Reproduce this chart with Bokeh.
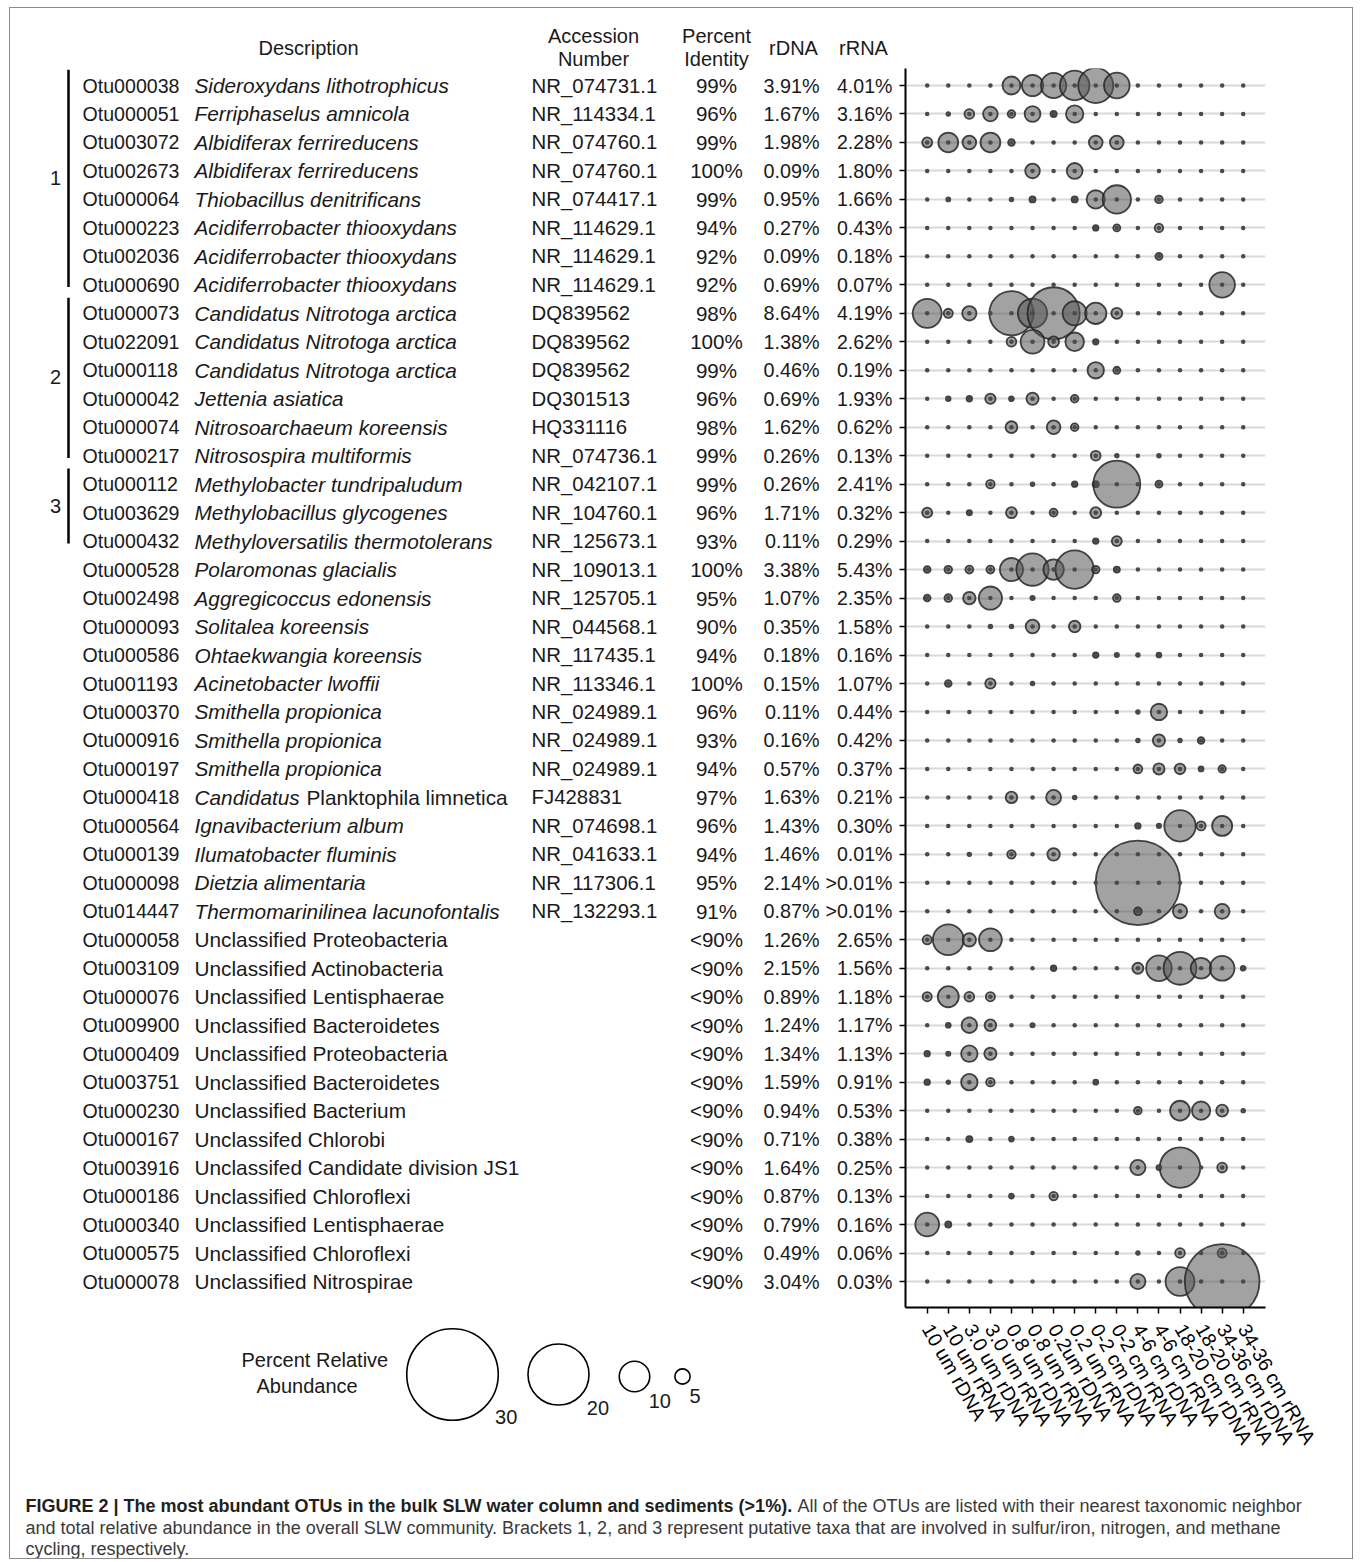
import math
from bokeh.plotting import figure
from bokeh.models import ColumnDataSource, Range1d, FixedTicker
from bokeh.layouts import column, row
from bokeh.embed import file_html
from bokeh.resources import INLINE
from bokeh.core.properties import value

# ---------------- data ----------------
otu_ids = ["Otu000038", "Otu000051", "Otu003072", "Otu002673", "Otu000064", "Otu000223",
           "Otu002036", "Otu000690", "Otu000073", "Otu022091", "Otu000118", "Otu000042",
           "Otu000074", "Otu000217", "Otu000112", "Otu003629", "Otu000432", "Otu000528",
           "Otu002498", "Otu000093", "Otu000586", "Otu001193", "Otu000370", "Otu000916",
           "Otu000197", "Otu000418", "Otu000564", "Otu000139", "Otu000098", "Otu014447",
           "Otu000058", "Otu003109", "Otu000076", "Otu009900", "Otu000409", "Otu003751",
           "Otu000230", "Otu000167", "Otu003916", "Otu000186", "Otu000340", "Otu000575",
           "Otu000078"]

desc_italic = ["Sideroxydans lithotrophicus", "Ferriphaselus amnicola", "Albidiferax ferrireducens",
               "Albidiferax ferrireducens", "Thiobacillus denitrificans", "Acidiferrobacter thiooxydans",
               "Acidiferrobacter thiooxydans", "Acidiferrobacter thiooxydans", "Candidatus Nitrotoga arctica",
               "Candidatus Nitrotoga arctica", "Candidatus Nitrotoga arctica", "Jettenia asiatica",
               "Nitrosoarchaeum koreensis", "Nitrosospira multiformis", "Methylobacter tundripaludum",
               "Methylobacillus glycogenes", "Methyloversatilis thermotolerans", "Polaromonas glacialis",
               "Aggregicoccus edonensis", "Solitalea koreensis", "Ohtaekwangia koreensis",
               "Acinetobacter lwoffii", "Smithella propionica", "Smithella propionica",
               "Smithella propionica", "Candidatus", "Ignavibacterium album", "Ilumatobacter fluminis",
               "Dietzia alimentaria", "Thermomarinilinea lacunofontalis",
               "", "", "", "", "", "", "", "", "", "", "", "", ""]

desc_roman = [""] * 25 + ["Planktophila limnetica"] + [""] * 4 + [
    "Unclassified Proteobacteria", "Unclassified Actinobacteria", "Unclassified Lentisphaerae",
    "Unclassified Bacteroidetes", "Unclassified Proteobacteria", "Unclassified Bacteroidetes",
    "Unclassified Bacterium", "Unclassifed Chlorobi", "Unclassifed Candidate division JS1",
    "Unclassified Chloroflexi", "Unclassified Lentisphaerae", "Unclassified Chloroflexi",
    "Unclassified Nitrospirae"]

accession = ["NR_074731.1", "NR_114334.1", "NR_074760.1", "NR_074760.1", "NR_074417.1", "NR_114629.1",
             "NR_114629.1", "NR_114629.1", "DQ839562", "DQ839562", "DQ839562", "DQ301513",
             "HQ331116", "NR_074736.1", "NR_042107.1", "NR_104760.1", "NR_125673.1", "NR_109013.1",
             "NR_125705.1", "NR_044568.1", "NR_117435.1", "NR_113346.1", "NR_024989.1", "NR_024989.1",
             "NR_024989.1", "FJ428831", "NR_074698.1", "NR_041633.1", "NR_117306.1", "NR_132293.1",
             "", "", "", "", "", "", "", "", "", "", "", "", ""]

identity = ["99%", "96%", "99%", "100%", "99%", "94%", "92%", "92%", "98%", "100%", "99%", "96%",
            "98%", "99%", "99%", "96%", "93%", "100%", "95%", "90%", "94%", "100%", "96%", "93%",
            "94%", "97%", "96%", "94%", "95%", "91%"] + ["<90%"] * 13

rdna = ["3.91%", "1.67%", "1.98%", "0.09%", "0.95%", "0.27%", "0.09%", "0.69%", "8.64%", "1.38%",
        "0.46%", "0.69%", "1.62%", "0.26%", "0.26%", "1.71%", "0.11%", "3.38%", "1.07%", "0.35%",
        "0.18%", "0.15%", "0.11%", "0.16%", "0.57%", "1.63%", "1.43%", "1.46%", "2.14%", "0.87%",
        "1.26%", "2.15%", "0.89%", "1.24%", "1.34%", "1.59%", "0.94%", "0.71%", "1.64%", "0.87%",
        "0.79%", "0.49%", "3.04%"]

rrna = ["4.01%", "3.16%", "2.28%", "1.80%", "1.66%", "0.43%", "0.18%", "0.07%", "4.19%", "2.62%",
        "0.19%", "1.93%", "0.62%", "0.13%", "2.41%", "0.32%", "0.29%", "5.43%", "2.35%", "1.58%",
        "0.16%", "1.07%", "0.44%", "0.42%", "0.37%", "0.21%", "0.30%", "0.01%", ">0.01%", ">0.01%",
        "2.65%", "1.56%", "1.18%", "1.17%", "1.13%", "0.91%", "0.53%", "0.38%", "0.25%", "0.13%",
        "0.16%", "0.06%", "0.03%"]

samples = ["10 um rDNA", "10 um rRNA", "3.0 um rDNA", "3.0 um rRNA", "0.8 um rDNA", "0.8 um rRNA",
           "0.2um rDNA", "0.2 um rRNA", "0-2 cm rDNA", "0-2 cm rRNA", "4-6 cm rDNA", "4-6 cm rRNA",
           "18-20 cm rDNA", "18-20 cm rRNA", "34-36 cm rDNA", "34-36 cm rRNA"]

# percent relative abundance per OTU (rows) and sample (columns)
abundance = [
    [0, 0, 0, 0, 5.9, 7.0, 8.3, 9.7, 11.5, 8.4, 0, 0, 0, 0, 0, 0],
    [0, 1.2, 3.2, 4.8, 2.5, 5.2, 2.0, 5.7, 0, 0, 0, 0, 0, 0, 0, 0],
    [3.3, 6.5, 4.5, 6.5, 2.2, 0, 0, 0, 4.5, 4.5, 0, 0, 0, 0, 0, 0],
    [0, 0, 0, 0, 0, 4.8, 0, 5.2, 0, 0, 0, 0, 0, 0, 0, 0],
    [0, 1.3, 0, 0, 1.2, 2.0, 0, 2.0, 6.0, 9.3, 0, 2.5, 0, 0, 0, 0],
    [0, 0, 0, 0, 0, 0, 0, 0, 1.8, 2.3, 0, 2.8, 0, 0, 0, 0],
    [0, 0, 0, 0, 0, 0, 0, 0, 0, 0, 0, 2.3, 0, 0, 0, 0],
    [0, 0, 0, 0, 0, 0, 0, 0, 0, 0, 0, 0, 0, 0, 8.4, 0],
    [9.5, 3.0, 4.7, 0, 14.5, 9.6, 17.1, 7.9, 7.0, 3.6, 0, 0, 0, 0, 0, 0],
    [0, 0, 0, 0, 3.2, 7.8, 3.6, 6.1, 1.8, 0, 0, 0, 0, 0, 0, 0],
    [0, 0, 0, 0, 0, 0, 0, 0, 5.4, 2.3, 0, 0, 0, 0, 0, 0],
    [0, 1.5, 1.8, 3.4, 1.6, 4.0, 0, 2.5, 0, 0, 0, 0, 0, 0, 0, 0],
    [0, 0, 0, 0, 3.9, 0, 4.5, 2.5, 0, 0, 0, 0, 0, 0, 0, 0],
    [0, 0, 0, 0, 0, 0, 0, 0, 3.2, 1.2, 0, 1.2, 0, 0, 0, 0],
    [0, 0, 0, 2.8, 0, 1.2, 0, 1.8, 2.0, 15.4, 0, 2.3, 0, 0, 0, 0],
    [3.3, 0, 1.7, 0, 3.6, 0, 2.6, 0, 3.6, 0, 0, 0, 0, 0, 0, 0],
    [0, 0, 0, 0, 0, 0, 0, 0, 1.8, 3.3, 0, 0, 0, 0, 0, 0],
    [2.2, 2.5, 2.6, 2.6, 7.6, 10.6, 6.7, 12.6, 2.5, 2.0, 0, 0, 0, 0, 0, 0],
    [2.2, 2.5, 4.1, 7.6, 0, 1.4, 0, 0, 0, 2.5, 0, 0, 0, 0, 0, 0],
    [0, 0, 0, 1.2, 1.2, 4.5, 0, 3.8, 0, 0, 0, 0, 0, 0, 0, 0],
    [0, 0, 0, 0, 0, 0, 0, 0, 1.8, 1.4, 1.2, 1.6, 0, 0, 0, 0],
    [0, 2.2, 0, 3.4, 0, 1.2, 0, 0, 0, 0, 0, 0, 0, 0, 0, 0],
    [0, 0, 0, 0, 0, 0, 0, 0, 0, 0, 1.2, 5.4, 0, 0, 0, 0],
    [0, 0, 0, 0, 0, 0, 0, 0, 0, 0, 1.2, 4.0, 1.2, 2.2, 0, 0],
    [0, 0, 0, 0, 0, 0, 0, 0, 0, 0, 2.9, 3.7, 3.5, 1.6, 2.4, 0],
    [0, 0, 0, 0, 3.8, 0, 4.9, 1.2, 0, 0, 0, 0, 0, 0, 0, 0],
    [0, 0, 0, 0, 0, 0, 0, 0, 0, 0, 1.8, 1.4, 10.3, 3.0, 6.6, 0],
    [0, 0, 1.2, 0, 2.8, 0, 4.1, 0, 0, 0, 0, 0, 0, 0, 0, 0],
    [0, 0, 0, 0, 0, 0, 0, 0, 0, 0, 27.7, 0, 0, 0, 0, 0],
    [0, 0, 0, 0, 0, 0, 0, 0, 0, 0, 2.5, 0, 4.7, 0, 4.9, 0],
    [3.0, 10.1, 4.4, 7.5, 0, 0, 0, 0, 0, 0, 0, 0, 0, 0, 0, 0],
    [0, 0, 0, 0, 0, 0, 1.8, 0, 0, 0, 3.6, 8.4, 10.8, 6.8, 8.1, 1.6],
    [3.0, 6.9, 3.2, 3.0, 0, 0, 0, 0, 0, 0, 0, 0, 0, 0, 0, 0],
    [0, 1.6, 5.1, 3.8, 0, 1.4, 0, 0, 0, 0, 0, 0, 0, 0, 0, 0],
    [1.8, 1.4, 5.4, 4.0, 0, 0, 0, 0, 0, 0, 0, 0, 0, 0, 0, 0],
    [1.8, 1.2, 5.4, 2.8, 0, 0, 0, 0, 1.6, 0, 0, 0, 0, 0, 0, 0],
    [0, 0, 0, 0, 0, 0, 0, 0, 0, 0, 2.5, 0, 6.5, 6.0, 3.9, 1.2],
    [0, 0, 2.0, 0, 1.6, 0, 0, 0, 0, 0, 0, 0, 0, 0, 0, 0],
    [0, 0, 0, 0, 0, 0, 0, 0, 0, 0, 5.0, 1.6, 13.3, 0, 3.2, 0],
    [0, 0, 0, 0, 1.6, 0, 2.8, 0, 0, 0, 0, 0, 0, 0, 0, 0],
    [7.8, 2.0, 0, 0, 0, 0, 0, 0, 0, 0, 0, 0, 0, 0, 0, 0],
    [0, 0, 0, 0, 0, 0, 0, 0, 0, 0, 1.2, 0, 3.2, 0, 3.0, 0],
    [0, 0, 0, 0, 0, 0, 0, 0, 0, 0, 5.0, 0, 9.5, 0, 24.5, 0],
]

group_names = ["1", "2", "3"]
group_first = [1, 9, 15]
group_last = [8, 14, 17]

legend_values = [30, 20, 10, 5]

headers = ["Description", "Accession\nNumber", "Percent\nIdentity", "rDNA", "rRNA"]

caption_bold = "FIGURE 2 | The most abundant OTUs in the bulk SLW water column and sediments (>1%)."
caption_lines = ["All of the OTUs are listed with their nearest taxonomic neighbor",
                 "and total relative abundance in the overall SLW community. Brackets 1, 2, and 3 represent putative taxa that are involved in sulfur/iron, nitrogen, and methane",
                 "cycling, respectively."]

# ---------------- layout constants ----------------
FONT = "Liberation Sans"
PX_PER_PCT = 3.05          # bubble diameter (px) per percent
OX, OY = 10, 8             # page offset of the layout content
TABLE_W, BUB_W = 887, 455
TOP_H, CAP_H = 1460, 90
F_LEFT, F_RIGHT, F_TOP, F_BOT = 905, 1265, 68, 1307   # bubble frame on the page
Y_TOP, Y_BOT = 0.403, 43.913                            # row units at frame top / bottom
X_LEFT, X_RIGHT = -0.03, 17.058
SCALE = (F_BOT - F_TOP) / (Y_BOT - Y_TOP)

def row_of(page_y):
    return Y_TOP + (page_y - F_TOP) / SCALE

n_rows = len(otu_ids)
rows_idx = list(range(1, n_rows + 1))

# ---------------- table figure ----------------
tab = figure(width=TABLE_W, height=TOP_H, output_backend="svg", toolbar_location=None,
             x_range=Range1d(OX, OX + TABLE_W),
             y_range=Range1d(row_of(OY + TOP_H), row_of(OY)),
             x_axis_location=None, y_axis_location=None, min_border=0,
             outline_line_color=None, background_fill_color="white", border_fill_color="white")
tab.xgrid.visible = False
tab.ygrid.visible = False

tsrc = ColumnDataSource(dict(y=rows_idx, otu=otu_ids, it=desc_italic, ro=desc_roman,
                             ro_x=[194 if not it else 306 for it in desc_italic],
                             acc=accession, ident=identity, rdna=rdna, rrna=rrna))
base = dict(text_font=value(FONT), text_baseline="middle", text_color="#1a1a1a")
tab.text(x=82, y="y", text="otu", source=tsrc, text_align="left", text_font_size="19.6px", **base)
tab.text(x=194, y="y", text="it", source=tsrc, text_align="left", text_font_style="italic",
         text_font_size="20.8px", **base)
tab.text(x="ro_x", y="y", text="ro", source=tsrc, text_align="left", text_font_size="20.8px", **base)
tab.text(x=531, y="y", text="acc", source=tsrc, text_align="left", text_font_size="20.4px", **base)
tab.text(x=716, y="y", text="ident", source=tsrc, text_align="center", text_font_size="20.6px", **base)
tab.text(x=819, y="y", text="rdna", source=tsrc, text_align="right", text_font_size="19.8px", **base)
tab.text(x=892, y="y", text="rrna", source=tsrc, text_align="right", text_font_size="19.6px", **base)

# headers
hx = [308, 593, 716, 793, 863]
hsrc = ColumnDataSource(dict(x=hx, y=[row_of(47)] * 5, t=headers))
tab.text(x="x", y="y", text="t", source=hsrc, text_align="center", text_font_size="20px",
         text_line_height=1.05, **base)

# brackets
bsrc = ColumnDataSource(dict(y0=[g - 0.55 for g in group_first], y1=[g + 0.08 for g in group_last],
                             ym=[(a + b) / 2 - 0.25 for a, b in zip(group_first, group_last)],
                             name=group_names))
tab.segment(x0=68, y0="y0", x1=68, y1="y1", source=bsrc, line_color="black", line_width=2.5)
tab.text(x=55, y="ym", text="name", source=bsrc, text_align="center", text_font_size="20px", **base)

# size legend
leg_cx = [452, 558, 634, 682]
leg_cy = [1374, 1374, 1376, 1376]
leg_d = [v * PX_PER_PCT for v in legend_values]
lsrc = ColumnDataSource(dict(x=leg_cx, y=[row_of(v) for v in leg_cy], size=leg_d,
                             lx=[cx + 0.465 * d for cx, d in zip(leg_cx, leg_d)],
                             ly=[row_of(cy + 0.3 * d + 15) for cy, d in zip(leg_cy, leg_d)],
                             t=[str(v) for v in legend_values]))
tab.scatter(x="x", y="y", size="size", source=lsrc, fill_color=None, line_color="black", line_width=1.6)
tab.text(x="lx", y="ly", text="t", source=lsrc, text_align="left", text_font_size="20px", **base)
tab.text(x=[241, 256], y=[row_of(1359), row_of(1385)], text=["Percent Relative", "Abundance"],
         text_align="left", text_font_size="20px", **base)

# ---------------- bubble figure ----------------
bub = figure(width=BUB_W, height=TOP_H, output_backend="svg", toolbar_location=None,
             x_range=Range1d(X_LEFT, X_RIGHT), y_range=Range1d(Y_BOT, Y_TOP),
             min_border_left=F_LEFT - (OX + TABLE_W), min_border_right=OX + TABLE_W + BUB_W - F_RIGHT,
             min_border_top=F_TOP - OY, min_border_bottom=OY + TOP_H - F_BOT,
             outline_line_color=None, background_fill_color="white", border_fill_color="white")

bub.xaxis.ticker = FixedTicker(ticks=list(range(1, len(samples) + 1)))
bub.xaxis.major_label_overrides = {i + 1: s for i, s in enumerate(samples)}
bub.xaxis.major_label_orientation = -math.pi / 3
bub.xaxis.major_label_text_font = FONT
bub.xaxis.major_label_text_font_size = "19.6px"
bub.xaxis.major_label_text_color = "black"
bub.xaxis.major_label_standoff = 12
bub.yaxis.ticker = FixedTicker(ticks=rows_idx)
bub.yaxis.major_label_overrides = {i: "" for i in rows_idx}
bub.yaxis.major_label_standoff = 0
for ax in (bub.xaxis, bub.yaxis):
    ax.axis_line_color = "black"
    ax.axis_line_width = 2
    ax.major_tick_line_color = "black"
    ax.major_tick_line_width = 1.5
    ax.major_tick_out = 6
    ax.major_tick_in = 0
    ax.minor_tick_line_color = None
bub.xgrid.grid_line_color = None
bub.ygrid.ticker = FixedTicker(ticks=rows_idx)
bub.ygrid.grid_line_color = "#d9d9d9"
bub.ygrid.grid_line_width = 2

bx, by, bs = [], [], []
dx, dy = [], []
for r, vals in enumerate(abundance):
    for c, v in enumerate(vals):
        dx.append(c + 1)
        dy.append(r + 1)
        if v > 0:
            bx.append(c + 1)
            by.append(r + 1)
            bs.append(v * PX_PER_PCT)
bub.scatter(x=bx, y=by, size=bs, fill_color="#555555", fill_alpha=0.55,
            line_color="#262626", line_width=1.8, line_alpha=0.85)
bub.scatter(x=dx, y=dy, size=4.5, fill_color="#4a4a4a", line_color=None)

# ---------------- caption figure ----------------
cap = figure(width=TABLE_W + BUB_W, height=CAP_H, output_backend="svg", toolbar_location=None,
             x_range=Range1d(OX, OX + TABLE_W + BUB_W), y_range=Range1d(OY + TOP_H + CAP_H, OY + TOP_H),
             x_axis_location=None, y_axis_location=None, min_border=0,
             outline_line_color=None, background_fill_color="white", border_fill_color="white")
cap.xgrid.visible = False
cap.ygrid.visible = False
cap.text(x=[25], y=[1505], text=[caption_bold], text_align="left", text_baseline="middle",
         text_font=value(FONT), text_font_style="bold", text_font_size="18px", text_color="#231f20")
cap.text(x=[797, 25, 25], y=[1505, 1527, 1548], text=caption_lines, text_align="left",
         text_baseline="middle", text_font=value(FONT), text_font_size="18px", text_color="#3a3a3a")

layout = column(row(column(tab), column(bub)), cap,
                styles={"border": "1px solid #8a8a8a", "margin-left": "9px", "margin-top": "7px"})

open("out.html", "w").write(file_html(layout, INLINE))
